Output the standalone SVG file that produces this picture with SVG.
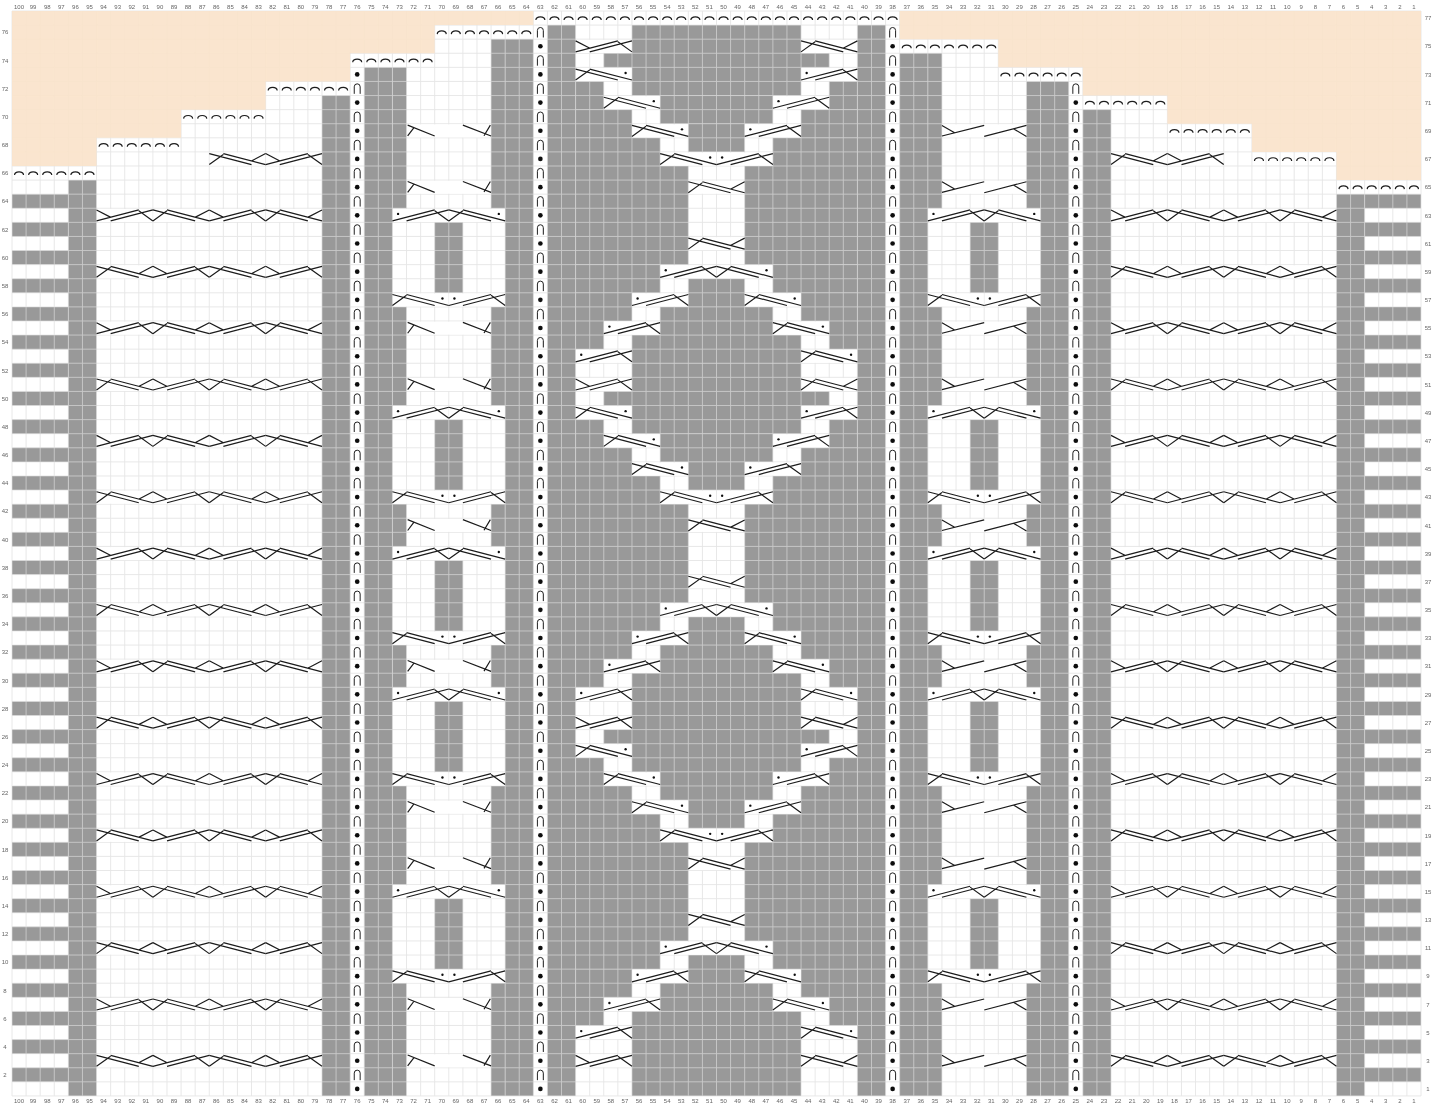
<svg xmlns="http://www.w3.org/2000/svg" width="1441" height="1108" viewBox="0 0 1441 1108">
<style>
.g{fill:#999}
.w{fill:#fff}
.ln{stroke:#1c1c1c;stroke-width:.085;fill:none}
.nn{stroke:#1c1c1c;stroke-width:.07;fill:none}
.dot{fill:#111}
.gr{stroke:#dcdcdc;stroke-width:.065;fill:none;opacity:.72}
.t{font-family:"Liberation Sans",Arial,sans-serif;font-size:6px;fill:#666;text-anchor:middle}
</style>
<defs>
<filter id="soft" x="0" y="0" width="100%" height="100%"><feGaussianBlur stdDeviation="0.3"/></filter>
<g id="arc"><path class="ln" d="M.18 .64C.2 .34 .8 .34 .82 .64"/></g>
<g id="a6"><use href="#arc"/><use href="#arc" x="1"/><use href="#arc" x="2"/><use href="#arc" x="3"/><use href="#arc" x="4"/><use href="#arc" x="5"/></g>
<g id="s"><path class="nn" d="M.29 .88V.38a.21 .21 0 0 1 .42 0V.88"/><circle class="dot" cx=".5" cy="1.5" r=".165"/></g>
<g id="s4"><use href="#s"/><use href="#s" y="2"/></g>
<g id="s12"><use href="#s4"/><use href="#s4" y="4"/><use href="#s4" y="8"/></g>
<g id="s72"><use href="#s12"/><use href="#s12" y="12"/><use href="#s12" y="24"/><use href="#s12" y="36"/><use href="#s12" y="48"/><use href="#s12" y="60"/></g>
<g id="sb" class="g"><rect y="21" width="1" height="7"/><rect y="35" width="1" height="3"/><rect y="45" width="1" height="3"/><rect y="55" width="1" height="7"/><rect y="69" width="1" height="8"/></g>
<g id="cb" class="g"><rect y="15" width="2" height="5"/><rect y="29" width="2" height="5"/><rect y="39" width="2" height="5"/><rect y="49" width="2" height="5"/><rect y="63" width="2" height="5"/></g>
<g id="Ad"><rect class="w" x=".04" y=".05" width="3.92" height=".92"/><path class="ln" d="M0 .9L3 .12M1 .9L4 .12M3 .18L4 .9"/><circle class="dot" cx=".4" cy=".4" r=".085"/></g>
<g id="Md"><rect class="w" x=".04" y=".05" width="3.92" height=".92"/><path class="ln" d="M4 .9L1 .12M3 .9L0 .12M1 .18L0 .9"/><circle class="dot" cx="3.55" cy=".4" r=".085"/></g>
<g id="A"><rect class="w" x=".04" y=".05" width="3.92" height=".92"/><path class="ln" d="M0 .9L3 .12M1 .9L4 .12M3 .18L4 .9M0 .12L.98 .63"/></g>
<g id="M"><rect class="w" x=".04" y=".05" width="3.92" height=".92"/><path class="ln" d="M4 .9L1 .12M3 .9L0 .12M1 .18L0 .9M4 .12L3.02 .63"/></g>
<g id="wA"><use href="#A"/><use href="#M" x="4"/><use href="#A" x="8"/><use href="#M" x="12"/></g>
<g id="wB"><use href="#M"/><use href="#A" x="4"/><use href="#M" x="8"/><use href="#A" x="12"/></g>
<g id="po"><use href="#Ad"/><use href="#Md" x="4"/></g>
<g id="pi"><use href="#Md"/><use href="#Ad" x="4"/></g>
<g id="hl"><rect class="w" x=".04" y=".05" width="5.92" height=".92"/><path class="ln" d="M.08 .1L2 .87M.08 .87L.53 .28M4 .1L6 .87M5.5 .85L5.95 .1"/></g>
<g id="hr"><rect class="w" x=".04" y=".05" width="5.92" height=".92"/><path class="ln" d="M0 .87L3 .12M0 .12L.9 .64M3 .9L6 .12M5.07 .35L6 .9"/></g>
<g id="Pg" class="g">
<rect x="44" y="0" width="12" height="5"/><rect x="42" y="2" width="16" height="1"/><rect x="46" y="5" width="8" height="2"/><rect x="48" y="7" width="4" height="2"/><rect x="48" y="18" width="4" height="2"/><rect x="46" y="20" width="8" height="2"/><rect x="44" y="22" width="12" height="2"/>
<rect x="40" y="4" width="2" height="2"/><rect x="40" y="6" width="4" height="2"/><rect x="40" y="8" width="6" height="2"/><rect x="40" y="10" width="8" height="7"/><rect x="40" y="17" width="6" height="2"/><rect x="40" y="19" width="4" height="2"/><rect x="40" y="21" width="2" height="2"/>
<rect x="58" y="4" width="2" height="2"/><rect x="56" y="6" width="4" height="2"/><rect x="54" y="8" width="6" height="2"/><rect x="52" y="10" width="8" height="7"/><rect x="54" y="17" width="6" height="2"/><rect x="56" y="19" width="4" height="2"/><rect x="58" y="21" width="2" height="2"/>
</g>
<g id="Pc">
<use href="#A" x="40" y="1"/><use href="#M" x="56" y="1"/>
<use href="#Md" x="40" y="3"/><use href="#Ad" x="56" y="3"/>
<use href="#Md" x="42" y="5"/><use href="#Ad" x="54" y="5"/>
<use href="#Md" x="44" y="7"/><use href="#Ad" x="52" y="7"/>
<use href="#Md" x="46" y="9"/><use href="#Ad" x="50" y="9"/>
<use href="#M" x="48" y="11"/><use href="#M" x="48" y="15"/>
<use href="#Ad" x="46" y="17"/><use href="#Md" x="50" y="17"/>
<use href="#Ad" x="44" y="19"/><use href="#Md" x="52" y="19"/>
<use href="#Ad" x="42" y="21"/><use href="#Md" x="54" y="21"/>
<use href="#Ad" x="40" y="23"/><use href="#Md" x="56" y="23"/>
</g>
<path id="v10" d="M0 0V77M1 0V77M2 0V77M3 0V77M4 0V77M5 0V77M6 0V77M7 0V77M8 0V77M9 0V77"/>
<path id="h10" d="M0 0H100M0 1H100M0 2H100M0 3H100M0 4H100M0 5H100M0 6H100M0 7H100M0 8H100M0 9H100"/>
</defs>
<rect width="1441" height="1108" fill="#fff"/>
<g filter="url(#soft)">
<g id="chart" transform="translate(12 11) scale(14.09)">
<g id="fields">
<path d="M2 13V77" style="fill:none;stroke:#999;stroke-width:4;stroke-dasharray:1 1"/>
<path d="M98 13V77" style="fill:none;stroke:#999;stroke-width:4;stroke-dasharray:1 1"/>
<g class="g">
<rect x="4" y="12" width="2" height="65"/>
<rect x="22" y="6" width="2" height="71"/>
<rect x="25" y="4" width="2" height="73"/>
<rect x="27" y="4" width="1" height="10"/>
<rect x="34" y="2" width="1" height="12"/>
<rect x="35" y="2" width="2" height="75"/>
<rect x="38" y="1" width="2" height="76"/>
<rect x="60" y="1" width="2" height="76"/>
<rect x="63" y="3" width="2" height="74"/>
<rect x="65" y="3" width="1" height="11"/>
<rect x="72" y="5" width="1" height="9"/>
<rect x="73" y="5" width="2" height="72"/>
<rect x="76" y="7" width="2" height="70"/>
<rect x="94" y="13" width="2" height="64"/>
<rect x="44" y="73" width="12" height="4"/>
</g>
<use href="#sb" x="27"/><use href="#sb" x="34"/><use href="#sb" x="65"/><use href="#sb" x="72"/>
<use href="#cb" x="30"/><use href="#cb" x="68"/>
<use href="#Pg" y="1"/><use href="#Pg" y="25"/><use href="#Pg" y="49"/>
</g>
<g id="grid" class="gr">
<use href="#v10"/><use href="#v10" x="10"/><use href="#v10" x="20"/><use href="#v10" x="30"/><use href="#v10" x="40"/><use href="#v10" x="50"/><use href="#v10" x="60"/><use href="#v10" x="70"/><use href="#v10" x="80"/><use href="#v10" x="90"/><path d="M100 0V77"/>
<use href="#h10"/><use href="#h10" y="10"/><use href="#h10" y="20"/><use href="#h10" y="30"/><use href="#h10" y="40"/><use href="#h10" y="50"/><use href="#h10" y="60"/>
<path d="M0 70H100M0 71H100M0 72H100M0 73H100M0 74H100M0 75H100M0 76H100M0 77H100"/>
</g>
<g id="peach" fill="#fae3ca" opacity=".9">
<path d="M0 0H37V1H30V3H24V5H18V7H12V9H6V11H0Z"/>
<path d="M63 0H100V12H94V10H88V8H82V6H76V4H70V2H63Z"/>
</g>
<g id="arches">
<use href="#a6" x="37"/><use href="#a6" x="43"/><use href="#a6" x="49"/><use href="#a6" x="55"/><use href="#arc" x="61"/><use href="#arc" x="62"/>
<use href="#a6" x="30" y="1"/><use href="#arc" x="36" y="1"/>
<use href="#a6" x="63" y="2"/><use href="#arc" x="69" y="2"/>
<use href="#a6" x="24" y="3"/>
<use href="#a6" x="70" y="4"/>
<use href="#a6" x="18" y="5"/>
<use href="#a6" x="76" y="6"/>
<use href="#a6" x="12" y="7"/>
<use href="#a6" x="82" y="8"/>
<use href="#a6" x="6" y="9"/>
<use href="#a6" x="88" y="10"/>
<use href="#a6" x="0" y="11"/>
<use href="#a6" x="94" y="12"/>
</g>
<g id="stitches">
<use href="#s72" x="24" y="5"/><circle class="dot" cx="24.5" cy="4.5" r=".165"/>
<use href="#s72" x="37" y="5"/><use href="#s4" x="37" y="1"/>
<use href="#s72" x="62" y="5"/><use href="#s4" x="62" y="1"/>
<use href="#s72" x="75" y="5"/>
</g>
<g id="cables">
<use href="#M" x="14" y="10"/><use href="#A" x="18" y="10"/><use href="#M" x="78" y="10"/><use href="#A" x="82" y="10"/>
<use href="#wA" x="6" y="14"/><use href="#wB" x="6" y="18"/><use href="#wA" x="6" y="22"/><use href="#wB" x="6" y="26"/><use href="#wA" x="6" y="30"/><use href="#wB" x="6" y="34"/><use href="#wA" x="6" y="38"/><use href="#wB" x="6" y="42"/><use href="#wA" x="6" y="46"/><use href="#wB" x="6" y="50"/><use href="#wA" x="6" y="54"/><use href="#wB" x="6" y="58"/><use href="#wA" x="6" y="62"/><use href="#wB" x="6" y="66"/><use href="#wA" x="6" y="70"/><use href="#wB" x="6" y="74"/>
<use href="#wA" x="78" y="14"/><use href="#wB" x="78" y="18"/><use href="#wA" x="78" y="22"/><use href="#wB" x="78" y="26"/><use href="#wA" x="78" y="30"/><use href="#wB" x="78" y="34"/><use href="#wA" x="78" y="38"/><use href="#wB" x="78" y="42"/><use href="#wA" x="78" y="46"/><use href="#wB" x="78" y="50"/><use href="#wA" x="78" y="54"/><use href="#wB" x="78" y="58"/><use href="#wA" x="78" y="62"/><use href="#wB" x="78" y="66"/><use href="#wA" x="78" y="70"/><use href="#wB" x="78" y="74"/>
<use href="#po" x="27" y="14"/><use href="#pi" x="27" y="20"/><use href="#po" x="27" y="28"/><use href="#pi" x="27" y="34"/><use href="#po" x="27" y="38"/><use href="#pi" x="27" y="44"/><use href="#po" x="27" y="48"/><use href="#pi" x="27" y="54"/><use href="#po" x="27" y="62"/><use href="#pi" x="27" y="68"/>
<use href="#po" x="65" y="14"/><use href="#pi" x="65" y="20"/><use href="#po" x="65" y="28"/><use href="#pi" x="65" y="34"/><use href="#po" x="65" y="38"/><use href="#pi" x="65" y="44"/><use href="#po" x="65" y="48"/><use href="#pi" x="65" y="54"/><use href="#po" x="65" y="62"/><use href="#pi" x="65" y="68"/>
<use href="#hl" x="28" y="8"/><use href="#hl" x="28" y="12"/><use href="#hl" x="28" y="22"/><use href="#hl" x="28" y="26"/><use href="#hl" x="28" y="36"/><use href="#hl" x="28" y="46"/><use href="#hl" x="28" y="56"/><use href="#hl" x="28" y="60"/><use href="#hl" x="28" y="70"/><use href="#hl" x="28" y="74"/>
<use href="#hr" x="66" y="8"/><use href="#hr" x="66" y="12"/><use href="#hr" x="66" y="22"/><use href="#hr" x="66" y="26"/><use href="#hr" x="66" y="36"/><use href="#hr" x="66" y="46"/><use href="#hr" x="66" y="56"/><use href="#hr" x="66" y="60"/><use href="#hr" x="66" y="70"/><use href="#hr" x="66" y="74"/>
<use href="#Pc" y="1"/><use href="#Pc" y="25"/><use href="#Pc" y="49"/>
<use href="#A" x="40" y="74"/><use href="#M" x="56" y="74"/>
</g>
</g>
<g id="col-top" class="t" transform="translate(0 8.5)">
<text x="19.05">100</text><text x="33.14">99</text><text x="47.23">98</text><text x="61.32">97</text><text x="75.41">96</text><text x="89.5">95</text><text x="103.59">94</text><text x="117.68">93</text><text x="131.77">92</text><text x="145.86">91</text>
<text x="159.95">90</text><text x="174.04">89</text><text x="188.13">88</text><text x="202.22">87</text><text x="216.31">86</text><text x="230.4">85</text><text x="244.49">84</text><text x="258.58">83</text><text x="272.67">82</text><text x="286.76">81</text>
<text x="300.85">80</text><text x="314.94">79</text><text x="329.03">78</text><text x="343.12">77</text><text x="357.21">76</text><text x="371.3">75</text><text x="385.39">74</text><text x="399.48">73</text><text x="413.57">72</text><text x="427.66">71</text>
<text x="441.75">70</text><text x="455.84">69</text><text x="469.93">68</text><text x="484.02">67</text><text x="498.11">66</text><text x="512.2">65</text><text x="526.29">64</text><text x="540.38">63</text><text x="554.47">62</text><text x="568.56">61</text>
<text x="582.65">60</text><text x="596.74">59</text><text x="610.83">58</text><text x="624.92">57</text><text x="639.01">56</text><text x="653.1">55</text><text x="667.19">54</text><text x="681.28">53</text><text x="695.37">52</text><text x="709.46">51</text>
<text x="723.55">50</text><text x="737.64">49</text><text x="751.73">48</text><text x="765.82">47</text><text x="779.91">46</text><text x="794">45</text><text x="808.09">44</text><text x="822.18">43</text><text x="836.27">42</text><text x="850.36">41</text>
<text x="864.45">40</text><text x="878.54">39</text><text x="892.63">38</text><text x="906.72">37</text><text x="920.81">36</text><text x="934.9">35</text><text x="948.99">34</text><text x="963.08">33</text><text x="977.17">32</text><text x="991.26">31</text>
<text x="1005.35">30</text><text x="1019.44">29</text><text x="1033.53">28</text><text x="1047.62">27</text><text x="1061.71">26</text><text x="1075.8">25</text><text x="1089.89">24</text><text x="1103.98">23</text><text x="1118.07">22</text><text x="1132.16">21</text>
<text x="1146.25">20</text><text x="1160.34">19</text><text x="1174.43">18</text><text x="1188.52">17</text><text x="1202.61">16</text><text x="1216.7">15</text><text x="1230.79">14</text><text x="1244.88">13</text><text x="1258.97">12</text><text x="1273.06">11</text>
<text x="1287.15">10</text><text x="1301.24">9</text><text x="1315.33">8</text><text x="1329.42">7</text><text x="1343.51">6</text><text x="1357.6">5</text><text x="1371.69">4</text><text x="1385.78">3</text><text x="1399.87">2</text><text x="1413.96">1</text>
</g>
<g id="col-bottom" class="t" transform="translate(0 1103)">
<text x="19.05">100</text><text x="33.14">99</text><text x="47.23">98</text><text x="61.32">97</text><text x="75.41">96</text><text x="89.5">95</text><text x="103.59">94</text><text x="117.68">93</text><text x="131.77">92</text><text x="145.86">91</text>
<text x="159.95">90</text><text x="174.04">89</text><text x="188.13">88</text><text x="202.22">87</text><text x="216.31">86</text><text x="230.4">85</text><text x="244.49">84</text><text x="258.58">83</text><text x="272.67">82</text><text x="286.76">81</text>
<text x="300.85">80</text><text x="314.94">79</text><text x="329.03">78</text><text x="343.12">77</text><text x="357.21">76</text><text x="371.3">75</text><text x="385.39">74</text><text x="399.48">73</text><text x="413.57">72</text><text x="427.66">71</text>
<text x="441.75">70</text><text x="455.84">69</text><text x="469.93">68</text><text x="484.02">67</text><text x="498.11">66</text><text x="512.2">65</text><text x="526.29">64</text><text x="540.38">63</text><text x="554.47">62</text><text x="568.56">61</text>
<text x="582.65">60</text><text x="596.74">59</text><text x="610.83">58</text><text x="624.92">57</text><text x="639.01">56</text><text x="653.1">55</text><text x="667.19">54</text><text x="681.28">53</text><text x="695.37">52</text><text x="709.46">51</text>
<text x="723.55">50</text><text x="737.64">49</text><text x="751.73">48</text><text x="765.82">47</text><text x="779.91">46</text><text x="794">45</text><text x="808.09">44</text><text x="822.18">43</text><text x="836.27">42</text><text x="850.36">41</text>
<text x="864.45">40</text><text x="878.54">39</text><text x="892.63">38</text><text x="906.72">37</text><text x="920.81">36</text><text x="934.9">35</text><text x="948.99">34</text><text x="963.08">33</text><text x="977.17">32</text><text x="991.26">31</text>
<text x="1005.35">30</text><text x="1019.44">29</text><text x="1033.53">28</text><text x="1047.62">27</text><text x="1061.71">26</text><text x="1075.8">25</text><text x="1089.89">24</text><text x="1103.98">23</text><text x="1118.07">22</text><text x="1132.16">21</text>
<text x="1146.25">20</text><text x="1160.34">19</text><text x="1174.43">18</text><text x="1188.52">17</text><text x="1202.61">16</text><text x="1216.7">15</text><text x="1230.79">14</text><text x="1244.88">13</text><text x="1258.97">12</text><text x="1273.06">11</text>
<text x="1287.15">10</text><text x="1301.24">9</text><text x="1315.33">8</text><text x="1329.42">7</text><text x="1343.51">6</text><text x="1357.6">5</text><text x="1371.69">4</text><text x="1385.78">3</text><text x="1399.87">2</text><text x="1413.96">1</text>
</g>
<g id="row-left" class="t">
<text x="5" y="34.3">76</text><text x="5" y="62.5">74</text><text x="5" y="90.7">72</text><text x="5" y="118.8">70</text><text x="5" y="147">68</text><text x="5" y="175.2">66</text><text x="5" y="203.4">64</text><text x="5" y="231.6">62</text><text x="5" y="259.7">60</text><text x="5" y="287.9">58</text><text x="5" y="316.1">56</text><text x="5" y="344.3">54</text><text x="5" y="372.5">52</text><text x="5" y="400.7">50</text><text x="5" y="428.8">48</text><text x="5" y="457">46</text><text x="5" y="485.2">44</text><text x="5" y="513.4">42</text><text x="5" y="541.6">40</text><text x="5" y="569.8">38</text><text x="5" y="597.9">36</text><text x="5" y="626.1">34</text><text x="5" y="654.3">32</text><text x="5" y="682.5">30</text><text x="5" y="710.7">28</text><text x="5" y="738.8">26</text><text x="5" y="767">24</text><text x="5" y="795.2">22</text><text x="5" y="823.4">20</text><text x="5" y="851.6">18</text><text x="5" y="879.8">16</text><text x="5" y="907.9">14</text><text x="5" y="936.1">12</text><text x="5" y="964.3">10</text><text x="5" y="992.5">8</text><text x="5" y="1020.7">6</text><text x="5" y="1048.9">4</text><text x="5" y="1077">2</text>
</g>
<g id="row-right" class="t">
<text x="1428" y="20.2">77</text><text x="1428" y="48.4">75</text><text x="1428" y="76.6">73</text><text x="1428" y="104.8">71</text><text x="1428" y="132.9">69</text><text x="1428" y="161.1">67</text><text x="1428" y="189.3">65</text><text x="1428" y="217.5">63</text><text x="1428" y="245.7">61</text><text x="1428" y="273.9">59</text><text x="1428" y="302">57</text><text x="1428" y="330.2">55</text><text x="1428" y="358.4">53</text><text x="1428" y="386.6">51</text><text x="1428" y="414.8">49</text><text x="1428" y="442.9">47</text><text x="1428" y="471.1">45</text><text x="1428" y="499.3">43</text><text x="1428" y="527.5">41</text><text x="1428" y="555.7">39</text><text x="1428" y="583.9">37</text><text x="1428" y="612">35</text><text x="1428" y="640.2">33</text><text x="1428" y="668.4">31</text><text x="1428" y="696.6">29</text><text x="1428" y="724.8">27</text><text x="1428" y="752.9">25</text><text x="1428" y="781.1">23</text><text x="1428" y="809.3">21</text><text x="1428" y="837.5">19</text><text x="1428" y="865.7">17</text><text x="1428" y="893.9">15</text><text x="1428" y="922">13</text><text x="1428" y="950.2">11</text><text x="1428" y="978.4">9</text><text x="1428" y="1006.6">7</text><text x="1428" y="1034.8">5</text><text x="1428" y="1062.9">3</text><text x="1428" y="1091.1">1</text>
</g>
</g>
</svg>
